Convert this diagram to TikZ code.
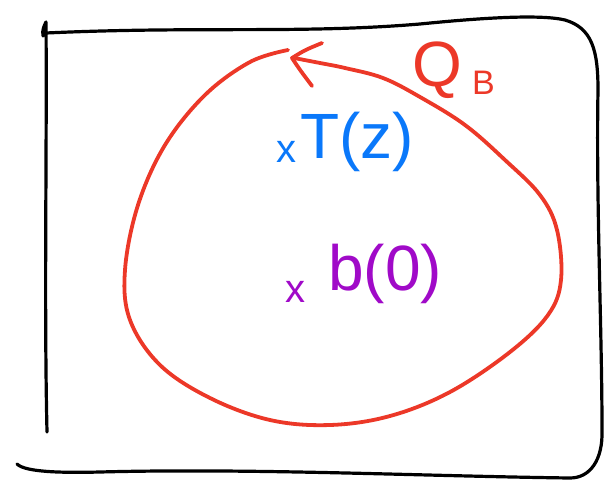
\documentclass[tikz,border=0pt]{standalone}
\usepackage{fontspec}
\setmainfont{Liberation Sans}
\definecolor{penred}{RGB}{236,56,40}
\definecolor{penblue}{RGB}{10,120,250}
\definecolor{penpurple}{RGB}{160,10,200}
\tikzset{
  frame/.style={line width=3.2pt, black, line cap=round, line join=round},
  loop/.style={line width=3.8pt, penred, line cap=round, line join=round},
  lbl/.style={inner sep=0pt, anchor=base west},
}
\begin{document}
\begin{tikzpicture}[x=1pt,y=-1pt]
\useasboundingbox (0,0) rectangle (605,493);
% frame
\draw[frame] (43,36) .. controls (42,30) and (44,26) .. (46,22)
  .. controls (47,150) and (44,300) .. (47,432);
\draw[frame] (46,33) .. controls (200,26) and (300,34) .. (420,24)
  .. controls (480,18) and (540,14) .. (565,20)
  .. controls (592,28) and (598,50) .. (598,90)
  .. controls (596,200) and (602,330) .. (602,430)
  .. controls (603,460) and (590,478) .. (570,478)
  .. controls (420,476) and (250,468) .. (100,472)
  .. controls (60,473) and (25,472) .. (17,464);
% red loop
\draw[loop] plot[smooth, tension=0.6] coordinates {
  (288,50) (250,62) (205,95) (165,145) (138,205) (125,270) (130,320) (160,365)
  (210,398) (270,420) (330,425) (390,416) (450,392) (510,352) (548,315)
  (561,280) (557,230) (540,195) (505,160) (465,125) (420,97) (383,78)
  (345,68) (320,63) (294,58)};
\coordinate (tip) at (292,58);
\coordinate (barbA) at (322,43);
\coordinate (barbB) at (312,86);
\draw[loop] (barbA) .. controls (305,50) .. (tip) .. controls (300,70) .. (barbB);
% labels
\node[lbl, penred, font=\fontsize{64}{64}\selectfont] (Q) at (412,86) {Q};
\node[lbl, penred, font=\fontsize{34}{34}\selectfont] (B) at (472,94) {B};
\node[lbl, penblue, font=\fontsize{40}{40}\selectfont] (xT) at (276,162) {x};
\node[lbl, penblue, font=\fontsize{64}{64}\selectfont] (T) at (300,158) {T(z)};
\node[lbl, penpurple, font=\fontsize{40}{40}\selectfont] (xb) at (285,302) {x};
\node[lbl, penpurple, font=\fontsize{64}{64}\selectfont] (b) at (328,290) {b(0)};
\end{tikzpicture}
\end{document}
